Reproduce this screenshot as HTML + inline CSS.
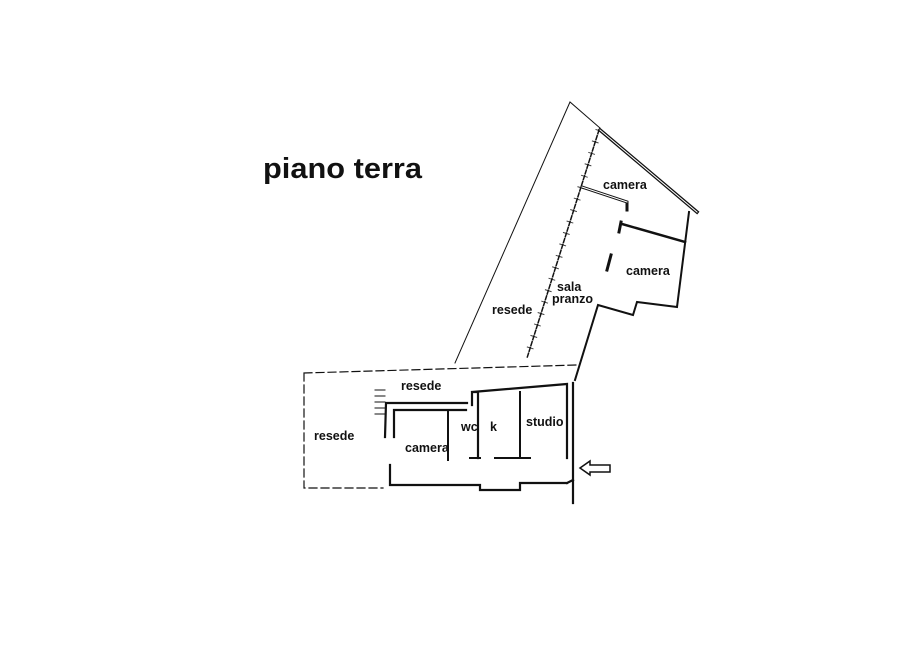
<!DOCTYPE html>
<html><head><style>
body{margin:0;background:#fff;}
svg text{font-family:"Liberation Sans",sans-serif;font-weight:bold;fill:#111;}
</style></head><body>
<svg width="900" height="653" viewBox="0 0 900 653" xmlns="http://www.w3.org/2000/svg">
<text x="263" y="178" font-size="29" textLength="159" lengthAdjust="spacingAndGlyphs">piano terra</text>
<g fill="none" stroke="#111" stroke-linecap="square">
<path d="M455,363 L570,102 L600,128" stroke-width="1"/>
<path d="M304,373 L577,365 M304,373 L304,488 L383,488" stroke-width="1.2" stroke-dasharray="8,4"/>
<path d="M599,130 L527,358" stroke-width="1.5" stroke-dasharray="4,2"/>
<path d="M599,130 L527,358" stroke-width="7" stroke-dasharray="1,11" stroke-linecap="butt" opacity="0.8"/>
<path d="M600,130 L697,212" stroke-width="3.5"/>
<path d="M600,130 L697,212" stroke="#fff" stroke-width="1"/>
<path d="M689,212 L677,307 L637,302 L633,315 L598,305 L575,380" stroke-width="2"/>
<path d="M582,187 L627,202 L627,210" stroke-width="3"/>
<path d="M582,187 L627,202" stroke="#fff" stroke-width="1"/>
<path d="M622,224 L685,242" stroke-width="2.5"/>
<path d="M621,222 L619,232 M611,255 L607,270" stroke-width="3"/>
<path d="M385,437 L386,403 L467,403 M390,465 L390,485 L480,485 L480,490 L520,490 L520,483 L567,483 M567,483 L573,480" stroke-width="2.2"/>
<path d="M394,437 L394,410 L466,410 M472,405 L472,392 L478,392 L478,458 M472,392 L567,384 L567,458 M573,383 L573,503" stroke-width="2.2"/>
<path d="M448,410 L448,460 M520,392 L520,457 M470,458 L480,458 M495,458 L530,458" stroke-width="2"/>
<path d="M375,390 L385,390 M375,396 L385,396 M375,402 L385,402 M375,408 L385,408 M375,414 L385,414" stroke-width="1"/>
<path d="M580,468 L590,461 L590,465 L610,465 L610,472 L590,472 L590,475 Z" stroke-width="1.5"/>
</g>
<g font-size="12.5">
<text x="603" y="189">camera</text>
<text x="626" y="275">camera</text>
<text x="557" y="291">sala</text>
<text x="552" y="303">pranzo</text>
<text x="492" y="314">resede</text>
<text x="401" y="390">resede</text>
<text x="314" y="440">resede</text>
<text x="461" y="431">wc</text>
<text x="490" y="431">k</text>
<text x="526" y="426">studio</text>
<text x="405" y="452">camera</text>
</g>
</svg>
</body></html>
